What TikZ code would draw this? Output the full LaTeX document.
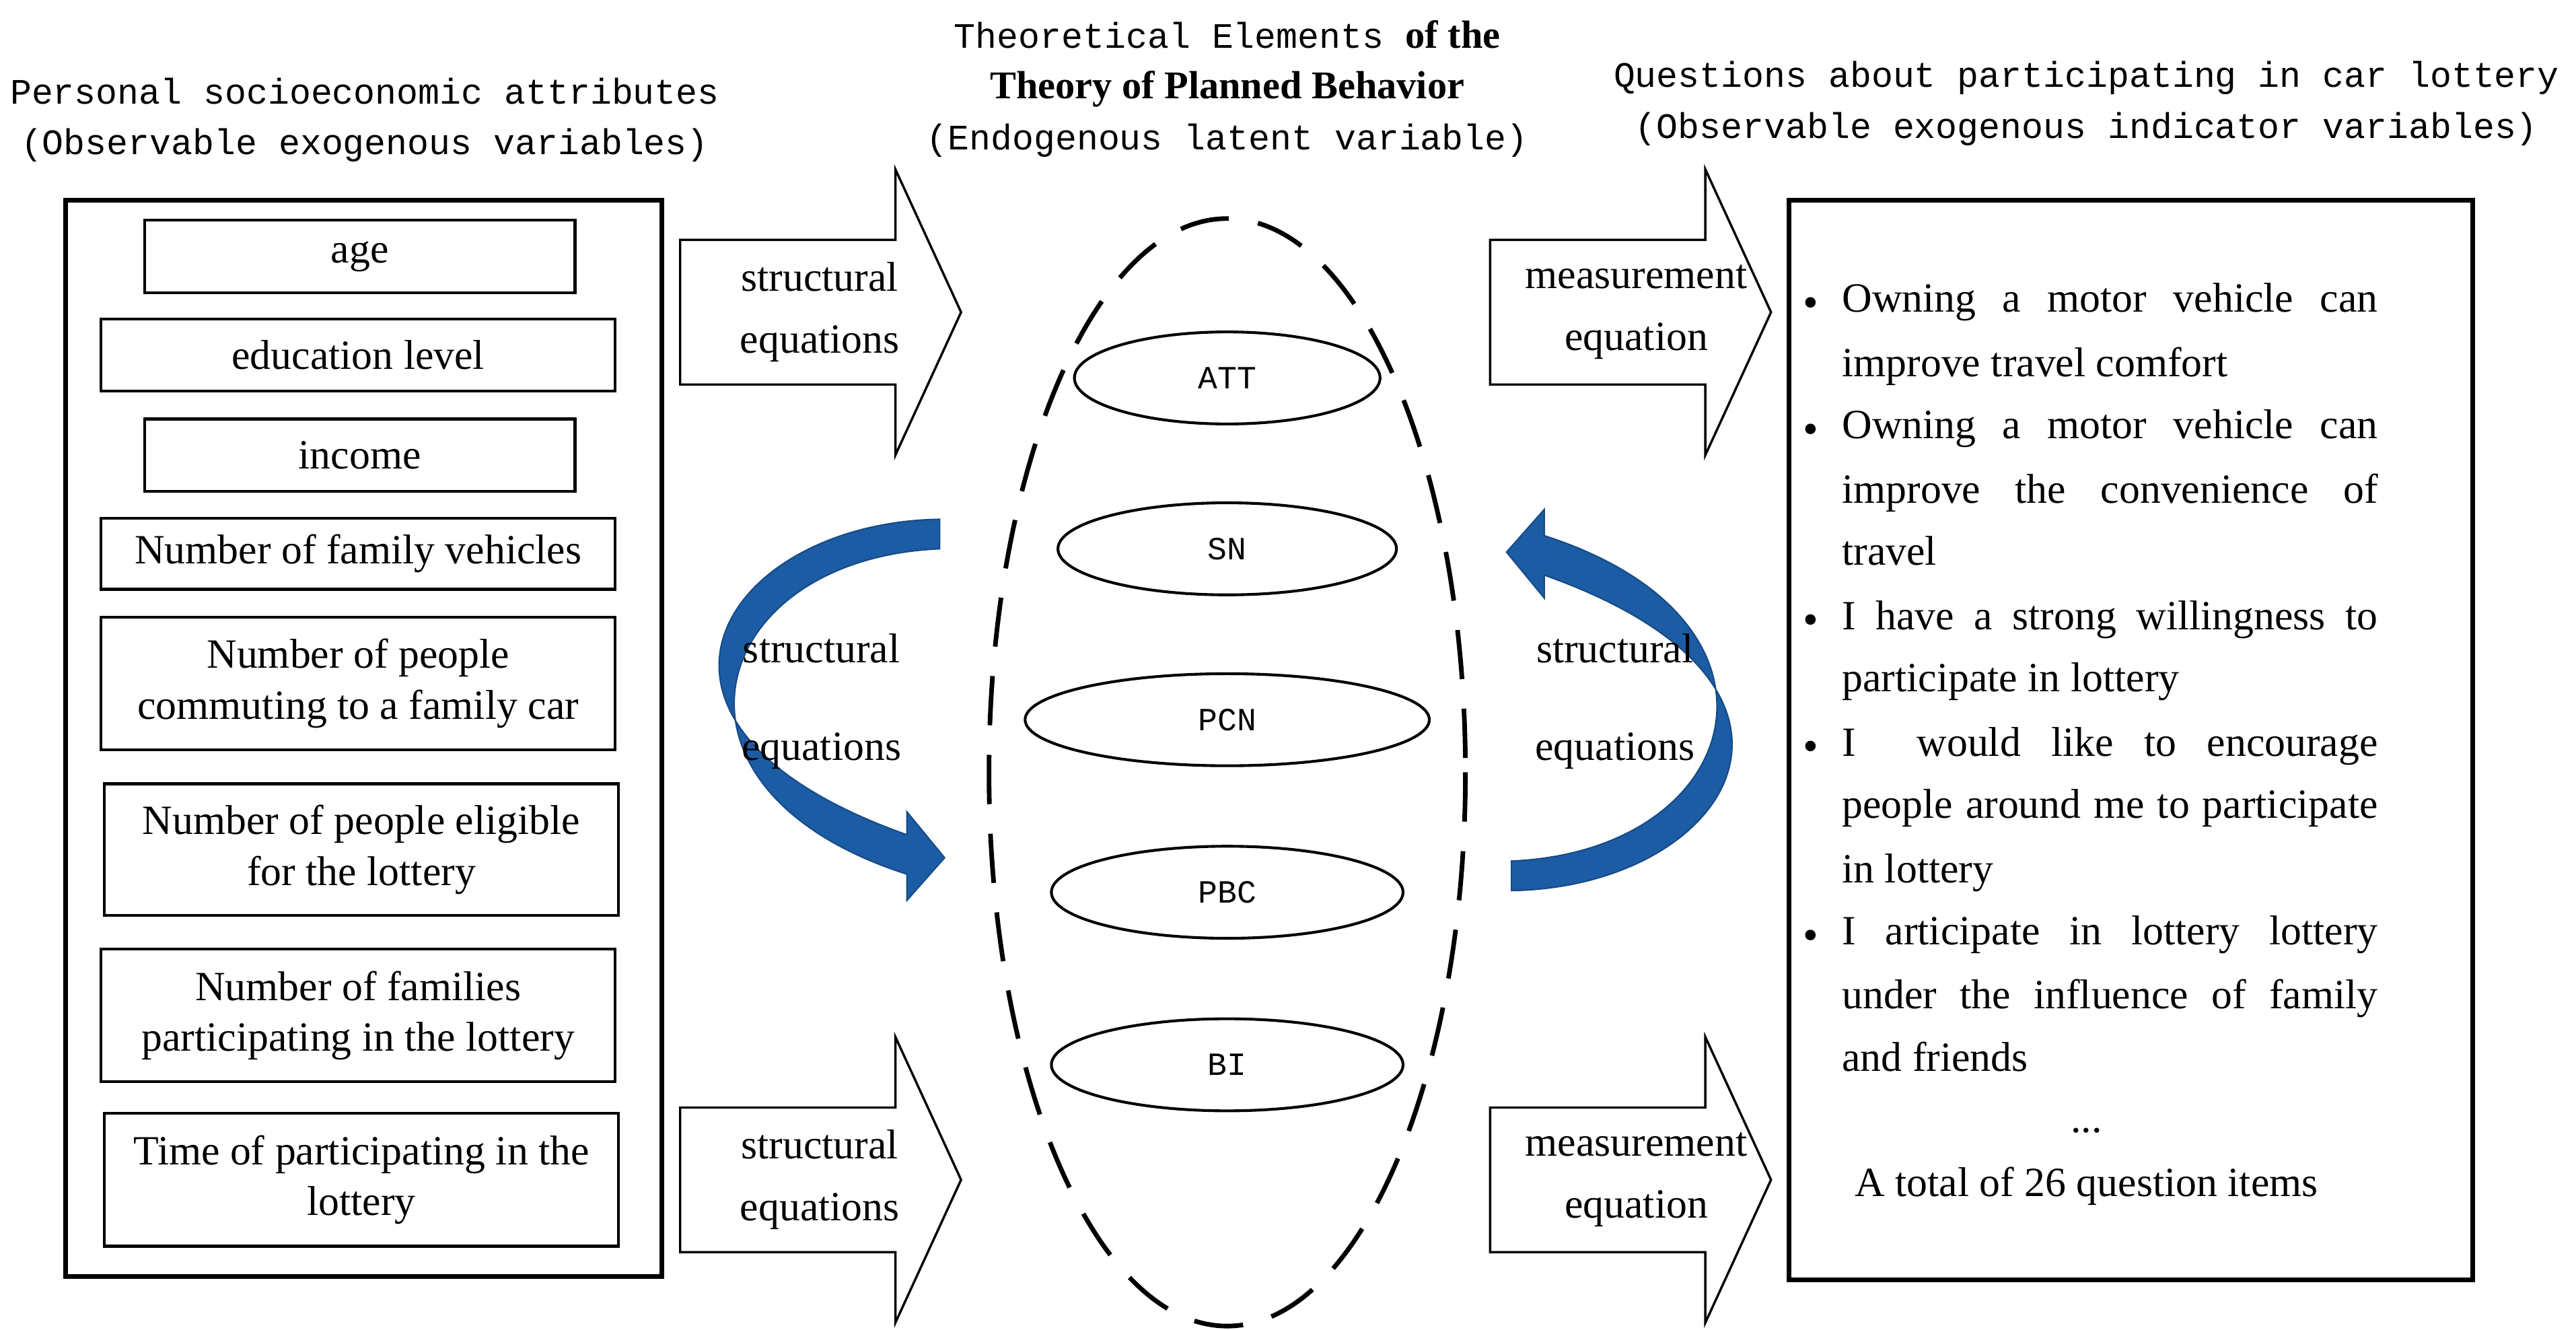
\documentclass[tikz,border=0pt]{standalone}
\usetikzlibrary{shapes.geometric}
\usepackage{fontspec}
\setmainfont{Liberation Serif}
\newfontfamily\mono{Liberation Mono}
\definecolor{ribc}{RGB}{28,92,165}
\begin{document}
\begin{tikzpicture}[x=0.025cm,y=-0.025cm,
  ibox/.style={draw,line width=1.2pt,minimum width=#1*0.025cm,align=center,font=\fontsize{18}{22}\selectfont,inner sep=0pt},
  lat/.style={draw,ellipse,line width=1.2pt,font=\mono\fontsize{14}{16}\selectfont,inner sep=0pt,minimum height=1.4cm},
  ttl/.style={font=\mono\fontsize{15.5}{22}\selectfont,align=center},
  lbl/.style={font=\fontsize{18}{21}\selectfont,align=center},
  big/.style={draw,line width=1pt,fill=white},
  rib/.style={fill=ribc,draw=ribc!80!black,line width=0.6pt},
  rt/.style={anchor=base west,font=\fontsize{18}{21}\selectfont,inner sep=0pt}]
\useasboundingbox (0,0) rectangle (1568,809);
% titles
\node[ttl] (t1) at (222,73) {Personal socioeconomic attributes\\(Observable exogenous variables)};
\node[ttl] (t2) at (747,54) {Theoretical Elements {\rmfamily\bfseries\fontsize{17}{22}\selectfont of the}\\{\rmfamily\bfseries\fontsize{17}{22}\selectfont Theory of Planned Behavior}\\(Endogenous latent variable)};
\node[ttl] (t3) at (1270,63) {Questions about participating in car lottery\\(Observable exogenous indicator variables)};
% left box
\draw[line width=2pt] (40,122) rectangle (403,777);
\node[ibox=262,minimum height=1.1cm] (a1) at (219,156) {age};
\node[ibox=313,minimum height=1.1cm] (a2) at (218,216) {education level};
\node[ibox=262,minimum height=1.1cm] (a3) at (219,277) {income};
\node[ibox=313,minimum height=1.08cm] (a4) at (218,337) {Number of family vehicles};
\node[ibox=313,minimum height=2.02cm] (a5) at (218,416) {Number of people\\commuting to a family car};
\node[ibox=313,minimum height=2cm] (a6) at (220,517) {Number of people eligible\\for the lottery};
\node[ibox=313,minimum height=2.02cm] (a7) at (218,618) {Number of families\\participating in the lottery};
\node[ibox=313,minimum height=2.02cm] (a8) at (220,718) {Time of participating in the\\lottery};
% block arrows
\foreach \x/\y/\n in {414/190/b1,414/718/b2,907/190/b3,907/718/b4}{
  \draw[big] (\x,\y-44) -- (\x+131,\y-44) -- (\x+131,\y-87) -- (\x+171,\y) -- (\x+131,\y+87) -- (\x+131,\y+44) -- (\x,\y+44) -- cycle;
  \coordinate (\n) at (\x+85,\y);
}
\node[lbl] (l1) at (b1) {structural\\[0.2cm]equations};
\node[lbl] (l2) at (b2) {structural\\[0.2cm]equations};
\node[lbl] (l3) at ([xshift=0.1cm]b3) {measurement\\[0.2cm]equation};
\node[lbl] (l4) at ([xshift=0.1cm]b4) {measurement\\[0.2cm]equation};
% big dashed ellipse
\draw[line width=2pt,dash pattern=on 0.75cm off 0.45cm] (747,470) ellipse [x radius=145, y radius=337];
\node[lat,minimum width=4.65cm] (att) at (747,230) {ATT};
\node[lat,minimum width=5.15cm] (sn) at (747,334) {SN};
\node[lat,minimum width=6.15cm] (pcn) at (747,438) {PCN};
\node[lat,minimum width=5.35cm] (pbc) at (747,543) {PBC};
\node[lat,minimum width=5.35cm] (bi) at (747,648) {BI};
% ribbons
\fill[rib] (572,316) .. controls (440,318) and (360,440) .. (552,508) -- (552,494) -- (575,522) -- (552,548) -- (552,532) .. controls (390,480) and (430,340) .. (572,334) -- cycle;
\fill[rib] (920,542) .. controls (1052,540) and (1132,418) .. (940,350) -- (940,364) -- (917,336) -- (940,310) -- (940,326) .. controls (1102,378) and (1062,518) .. (920,524) -- cycle;
\node[lbl] (l5) at (500,427) {structural\\[0.75cm]equations};
\node[lbl] (l6) at (983,427) {structural\\[0.75cm]equations};
% right box
\draw[line width=2pt] (1089,122) rectangle (1505,779);
\foreach \y in {190,267,383,460,575}{\fill (1102,\y-6) circle (3.2);}
\node[rt] (r1) at (1121,190) {\makebox[8.15cm][s]{Owning a motor vehicle can}};
\node[rt] (r2) at (1121,229) {improve travel comfort};
\node[rt] (r3) at (1121,267) {\makebox[8.15cm][s]{Owning a motor vehicle can}};
\node[rt] (r4) at (1121,306) {\makebox[8.15cm][s]{improve the convenience of}};
\node[rt] (r5) at (1121,344) {travel};
\node[rt] (r6) at (1121,383) {\makebox[8.15cm][s]{I have a strong willingness to}};
\node[rt] (r7) at (1121,421) {participate in lottery};
\node[rt] (r8) at (1121,460) {\makebox[8.15cm][s]{I \ would like to encourage}};
\node[rt] (r9) at (1121,498) {\makebox[8.15cm][s]{people around me to participate}};
\node[rt] (r10) at (1121,537) {in lottery};
\node[rt] (r11) at (1121,575) {\makebox[8.15cm][s]{I articipate in lottery lottery}};
\node[rt] (r12) at (1121,614) {\makebox[8.15cm][s]{under the influence of family}};
\node[rt] (r13) at (1121,652) {and friends};
\node[lbl] (r14) at (1270,688) {...};
\node[lbl] (r15) at (1270,722) {A total of 26 question items};
\end{tikzpicture}
\end{document}
